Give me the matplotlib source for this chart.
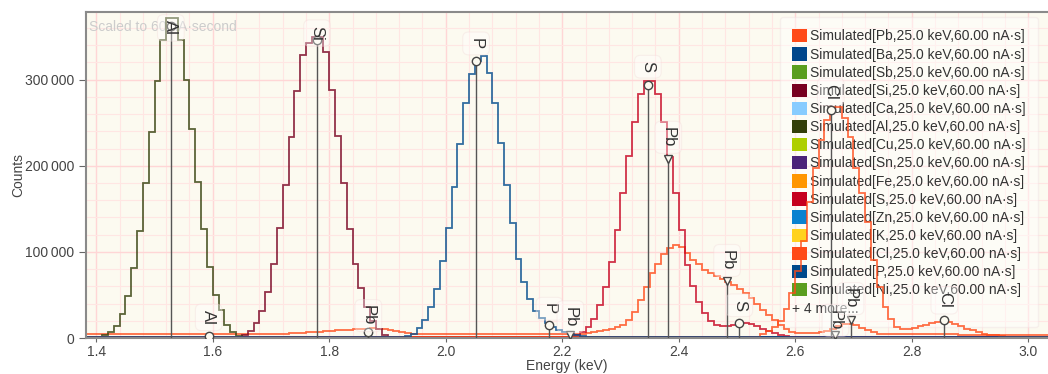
import numpy as np
import matplotlib
matplotlib.use('Agg')
import matplotlib.pyplot as plt
from matplotlib.patches import Patch
from matplotlib.ticker import MultipleLocator, FuncFormatter

plt.rcParams['font.family'] = ['Liberation Sans', 'DejaVu Sans']

# energy axis: 10 eV bins
E_LO = 1.38
E_HI = 3.04
BIN = 0.01

# counts per bin (first bin energy + values)
al_start = 1.40
al_counts = [1000, 3000, 7000, 13600, 27500, 49000, 81000, 124000, 180000, 239000,
             298000, 346500, 372000, 372000, 346500, 300000, 243000, 181000, 126000, 82000,
             49600, 32000, 15000, 7000, 2500]

si_start = 1.65
si_counts = [3000, 8000, 17000, 31000, 53000, 86000, 128000, 178000, 233000, 287000,
             328000, 342000, 349000, 349000, 332000, 288000, 235000, 180000, 127000, 86000,
             58000, 36000, 20000, 10000, 4000, 1500]

p_start = 1.93
p_counts = [2000, 5000, 12000, 21000, 36000, 57000, 89000, 128000, 175000, 225000,
            273000, 307000, 322000, 327500, 308000, 273000, 226000, 178000, 133000, 92000,
            65000, 45000, 31000, 23000, 17000, 13000, 9000, 7000, 5000, 3500, 2000]

s_start = 2.22
s_counts = [4000, 7000, 12800, 22500, 38000, 59000, 88000, 125000, 168000, 211000,
            251000, 283000, 298500, 298500, 283000, 251000, 210000, 168000, 125000, 85000,
            60000, 42000, 29000, 20000, 15000, 14000, 14500, 15500, 16500, 17000,
            16000, 14000, 11000, 8000, 5500, 3500, 2000]

cl_start = 2.54
cl_counts = [5000, 8000, 13000, 20000, 34000, 52000, 78000, 113000, 158000, 197000,
             230000, 253000, 268000, 268000, 255000, 233000, 197000, 168000, 135000, 90000,
             59000, 36000, 22000, 13000, 11000, 11000, 12000, 13500, 15500, 17000,
             18500, 19000, 18000, 16000, 13500, 11000, 9000, 7000, 5000, 4000,
             3000, 2000]

pb_start = 1.38
pb_counts = [4300, 4300, 4300, 4300, 4300, 4300, 4300, 4300, 4300, 4300,
             4300, 4300, 4300, 4300, 4300, 4300, 4300, 4300, 4300, 4300,
             4300, 4300, 4300, 4300, 4300, 4300, 4300, 4300, 4400, 4400,
             4500, 4600, 4700, 4900, 5100, 5400, 5700, 6000, 6400, 6800,
             7300, 7800, 8300, 8800, 9300, 9800, 10300, 10700, 11000, 11200,
             11000, 10300, 9200, 8000, 6800, 5800, 5200, 4800, 4600, 4500,
             4500, 4500, 4500, 4500, 4500, 4400, 4400, 4400, 4400, 4400,
             4400, 4400, 4400, 4400, 4400, 4400, 4400, 4400, 4400, 4400,
             4400, 4400, 4500, 4500, 4600, 5000, 6000, 7000, 8000, 9400,
             10800, 13000, 15600, 20500, 30600, 44600, 59000, 75000, 86000, 98000,
             104000, 107500, 105500, 98500, 91000, 85500, 79000, 75000, 71500, 69000,
             65000, 61000, 57000, 52000, 46000, 40000, 33000, 27000, 21000, 15000,
             10000, 7000, 6000, 5500, 5500, 6000, 7000, 8500, 11000, 14000,
             16000, 16500, 15000, 12000, 9000, 6500, 5000, 4600, 4400, 4300,
             4200, 4200, 4200, 4200, 4200, 4200, 4200, 4200, 4200, 4200,
             4000, 4000, 4000, 4000, 4000, 4000, 4000, 4000, 4000, 4000,
             3900, 3900, 3900, 3900, 3900, 3900]

# legend order / colours, and the near-zero level of every spectrum
elements = ['Pb', 'Ba', 'Sb', 'Si', 'Ca', 'Al', 'Cu', 'Sn', 'Fe', 'S', 'Zn', 'K', 'Cl', 'P', 'Ni']
colors = ['#ff4a18', '#00468b', '#5a9e1f', '#780020', '#88ccff', '#333f0a', '#aecf00', '#4b2379',
          '#ff9600', '#c6001e', '#0a82d0', '#ffd21e', '#ff4a18', '#004a8c', '#5a9e1f']
floor = [0, 1500, 600, 800, 400, 800, 400, 800, 400, 800, 500, 500, 800, 1000, 500]
peaks = {'Pb': (pb_start, pb_counts), 'Al': (al_start, al_counts), 'Si': (si_start, si_counts),
         'P': (p_start, p_counts), 'S': (s_start, s_counts), 'Cl': (cl_start, cl_counts)}

# line markers
mk_elem = ['Al', 'Al', 'Si', 'Pb', 'P', 'P', 'Pb', 'S', 'Pb', 'Pb', 'S', 'Cl', 'Pb', 'Pb', 'Cl']
mk_energy = [1.528, 1.593, 1.779, 1.867, 2.052, 2.178, 2.214, 2.347, 2.382, 2.483, 2.504, 2.661, 2.669, 2.695, 2.856]
mk_height = [362000, 2000, 346500, 7000, 321700, 14700, 4000, 293500, 208000, 66000, 17400, 264500, 3000, 21400, 20500]
mk_label = [360000, 24000, 354000, 26000, 342000, 34000, 24600, 315000, 233000, 90000, 38000, 285700, 20600, 45700, 43800]
mk_shape = ['o', 'o', 'o', 'o', 'o', 'o', 'v', 'o', 'v', 'v', 'o', 'o', 'v', 'v', 'o']

nbins = int(round((E_HI - E_LO) / BIN))
edges = E_LO + BIN * np.arange(nbins + 1)

fig = plt.figure(figsize=(10.48, 3.74), dpi=100)
ax = fig.add_axes([86 / 1048, 1 - 338 / 374, 962 / 1048, 326 / 374])
ax.set_facecolor('#fcfaf0')

for el, col, fl in zip(elements, colors, floor):
    y = np.full(nbins, float(fl))
    if el in peaks:
        st, vals = peaks[el]
        i0 = int(round((st - E_LO) / BIN))
        y[i0:i0 + len(vals)] = vals
    ax.stairs(y, edges, color=col, alpha=0.8, lw=1.3, zorder=2)

for el, e, h, ly, sh in zip(mk_elem, mk_energy, mk_height, mk_label, mk_shape):
    ax.plot([e, e], [0, h], color='#555555', lw=1, zorder=3)
    ax.plot(e, h, marker=sh, ms=6, mfc='#fcfaf0', mec='#444444', mew=1, zorder=4)
    ax.text(e, ly, el, rotation=270, ha='center', va='center', fontsize=12, color='#333333', zorder=5,
            bbox=dict(boxstyle='round,pad=0.35', fc='white', alpha=0.35, ec='#f2d8d8', lw=0.8))

ax.text(0.003, 0.955, 'Scaled to 60 nA\u00b7second', transform=ax.transAxes, fontsize=10,
        color='#cccccc', ha='left', va='center', zorder=1)

ax.set_xlim(1.3823, 3.034)
ax.set_ylim(0, 378500)
ax.xaxis.set_major_locator(MultipleLocator(0.2))
ax.xaxis.set_minor_locator(MultipleLocator(0.04))
ax.yaxis.set_major_locator(MultipleLocator(100000))
ax.yaxis.set_minor_locator(MultipleLocator(20000))
ax.xaxis.set_major_formatter(FuncFormatter(lambda v, p: f'{v:.1f}'))
ax.yaxis.set_major_formatter(FuncFormatter(lambda v, p: f'{int(v):,}'.replace(',', '\u2009')))
ax.grid(which='major', color='#ffd6d6', lw=1.0)
ax.grid(which='minor', color='#ffe6e3', lw=0.8)
ax.set_axisbelow(True)
ax.tick_params(which='major', direction='out', length=5, color='#666666', labelsize=10, labelcolor='#444444')
ax.tick_params(axis='x', which='major', length=3, pad=2)
ax.tick_params(which='minor', length=0)
for s in ['left', 'top', 'bottom']:
    ax.spines[s].set_color('#8a8a8a')
    ax.spines[s].set_linewidth(1.5)
ax.spines['right'].set_visible(False)
ax.set_xlabel('Energy (keV)', fontsize=10, color='#444444', labelpad=0)
ax.set_ylabel('Counts', fontsize=10, color='#444444', labelpad=0)

handles = [Patch(facecolor=c, edgecolor='none') for c in colors]
labels = [f'Simulated[{el},25.0 keV,60.00 nA\u00b7s]' for el in elements]
handles.append(Patch(facecolor='none', edgecolor='none'))
labels.append('+ 4 more...')
leg = ax.legend(handles, labels, loc='upper right', bbox_to_anchor=(1 - 10.3 / 962, 1 - 5.3 / 326),
                borderaxespad=0, fontsize=10, handlelength=1.1, handleheight=1.1, handletextpad=0.2,
                labelspacing=0.27, borderpad=0.85, frameon=True, fancybox=True, framealpha=0.45,
                edgecolor='#f0e2e2', facecolor='white', labelcolor='#333333')
leg.set_zorder(1.5)
fs_px = 10 * fig.dpi / 72
leg.get_texts()[-1].set_x(-(1.1 + 0.2) * fs_px)

fig.savefig('out.png', dpi=100)
